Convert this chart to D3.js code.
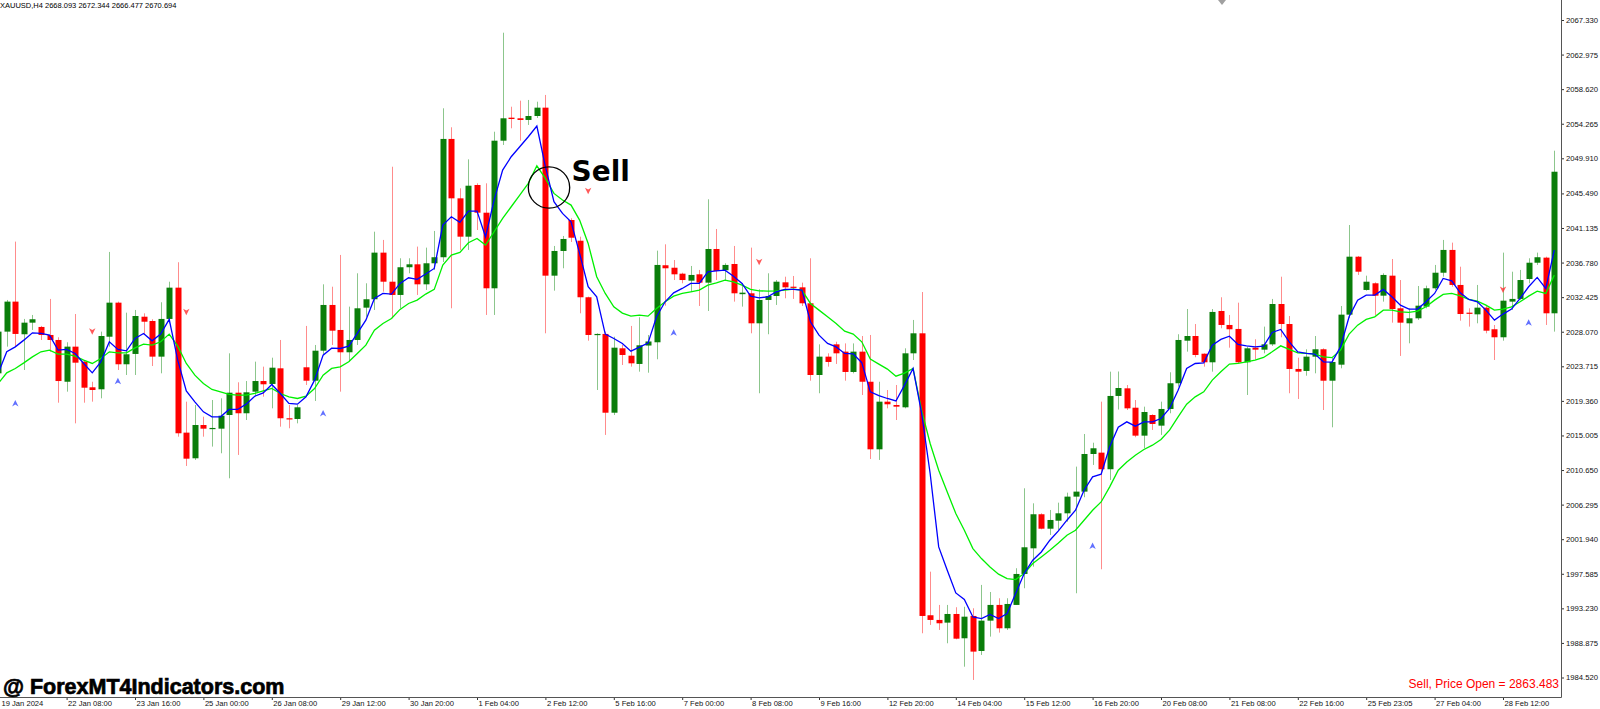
<!DOCTYPE html>
<html>
<head>
<meta charset="utf-8">
<script src="https://cdn.jsdelivr.net/npm/d3@7"></script>
<style>
  body { margin: 0; background: #ffffff; overflow: hidden; }
  text { font-family: 'Liberation Sans', Arial, sans-serif; }
</style>
</head>
<body>
<script>
// XAUUSD H4 candles (bar 0 = 19 Jan 2024)
const opens = [
  2022.83, 2028.08, 2031.86, 2027.75, 2029.21, 2028.67, 2027.66, 2027.03, 2021.77, 2026.19,
  2024.3, 2021.07, 2020.82, 2027.44, 2031.73, 2023.97, 2025.27, 2029.96, 2029.42, 2024.93,
  2029.68, 2033.62, 2015.36, 2012.13, 2016.32, 2015.86, 2015.86, 2017.58, 2020.39, 2017.8,
  2020.52, 2021.86, 2021.49, 2023.46, 2017.17, 2017.08, 2023.59, 2021.9, 2025.68, 2031.44,
  2028.29, 2025.48, 2027.03, 2031.1, 2032.16, 2038.03, 2034.37, 2032.7, 2036.19, 2036.56,
  2034.04, 2036.69, 2037.45, 2052.35, 2044.87, 2040.04, 2046.55, 2043.06, 2033.54, 2052.13,
  2055.03, 2054.95, 2054.74, 2055.24, 2056.29, 2035.13, 2038.24, 2042.14, 2039.53, 2032.41,
  2027.7, 2027.79, 2017.87, 2025.98, 2025.05, 2024.01, 2026.33, 2026.74, 2036.44, 2036.13,
  2035.38, 2034.5, 2035.3, 2034.25, 2038.49, 2035.81, 2036.6, 2032.8, 2032.91, 2029.13,
  2032.07, 2032.57, 2034.29, 2033.74, 2033.66, 2031.65, 2022.62, 2024.93, 2026.48, 2025.56,
  2023.0, 2025.56, 2021.77, 2013.26, 2019.26, 2018.84, 2018.55, 2025.35, 2027.87, 1992.36,
  1991.77, 1991.43, 1992.52, 1989.46, 1992.27, 1987.86, 1991.68, 1993.66, 1990.72, 1993.66,
  1997.56, 2000.79, 2005.08, 2003.26, 2004.27, 2005.2, 2007.3, 2007.93, 2012.67, 2012.84,
  2010.75, 2019.98, 2020.94, 2018.5, 2014.98, 2017.58, 2016.24, 2018.34, 2021.58, 2026.94,
  2027.53, 2025.3, 2024.22, 2030.68, 2028.92, 2028.42, 2024.22, 2026.06, 2025.81, 2026.48,
  2031.56, 2029.04, 2023.38, 2023.13, 2024.93, 2025.86, 2021.9, 2023.92, 2030.22, 2037.52,
  2033.33, 2034.17, 2032.61, 2035.13, 2031.02, 2029.13, 2029.76, 2031.23, 2033.54, 2035.5,
  2038.37, 2033.96, 2030.47, 2030.26, 2031.1, 2028.38, 2027.37, 2031.86, 2032.2, 2034.71,
  2036.76, 2037.4, 2030.39
];
const highs = [
  2028.29, 2032.07, 2039.42, 2029.68, 2030.18, 2028.8, 2032.2, 2027.37, 2026.74, 2030.3,
  2024.51, 2021.77, 2028.08, 2038.12, 2031.86, 2030.47, 2030.81, 2030.39, 2029.64, 2031.78,
  2034.37, 2036.82, 2019.26, 2018.84, 2017.37, 2019.47, 2019.68, 2025.35, 2021.7, 2021.86,
  2024.3, 2023.67, 2024.8, 2027.03, 2018.84, 2018.84, 2028.8, 2026.4, 2034.04, 2033.74,
  2037.74, 2031.23, 2035.43, 2034.17, 2040.67, 2039.63, 2048.85, 2037.32, 2037.32, 2038.79,
  2038.66, 2040.76, 2056.21, 2053.82, 2046.13, 2049.78, 2046.76, 2046.76, 2053.26, 2065.73,
  2056.41, 2057.17, 2057.26, 2057.04, 2057.89, 2038.87, 2040.13, 2042.36, 2040.04, 2032.49,
  2027.87, 2028.08, 2027.44, 2026.4, 2028.8, 2029.89, 2027.66, 2038.28, 2039.08, 2037.1,
  2035.5, 2036.35, 2035.85, 2044.75, 2041.01, 2036.69, 2038.87, 2034.17, 2038.66, 2033.42,
  2035.43, 2034.58, 2035.0, 2035.09, 2034.25, 2037.32, 2026.48, 2025.35, 2026.81, 2026.6,
  2026.6, 2027.53, 2027.66, 2021.77, 2020.73, 2021.36, 2025.98, 2029.55, 2033.07, 1997.85,
  1993.66, 1993.66, 1993.37, 1993.43, 1993.24, 1996.18, 1995.29, 1994.5, 1994.5, 1998.28,
  2008.35, 2006.46, 2005.2, 2005.62, 2006.54, 2007.8, 2011.08, 2015.19, 2014.09, 2019.26,
  2023.04, 2023.06, 2021.36, 2019.47, 2018.63, 2017.67, 2019.26, 2022.96, 2027.75, 2030.93,
  2029.04, 2025.35, 2030.93, 2032.41, 2030.18, 2031.73, 2026.19, 2027.12, 2028.71, 2032.2,
  2035.0, 2030.05, 2024.8, 2025.86, 2027.53, 2025.98, 2024.76, 2031.31, 2041.51, 2037.61,
  2035.13, 2034.29, 2035.43, 2037.23, 2034.58, 2031.02, 2033.83, 2033.87, 2036.48, 2039.63,
  2039.29, 2036.26, 2031.02, 2033.96, 2031.44, 2028.92, 2038.03, 2035.63, 2035.85, 2037.32,
  2038.03, 2037.52, 2050.87
];
const lows = [
  2022.48, 2026.19, 2026.27, 2023.25, 2028.29, 2027.03, 2025.56, 2019.13, 2020.52, 2016.53,
  2019.13, 2019.26, 2019.68, 2026.19, 2023.25, 2022.62, 2022.62, 2027.66, 2023.75, 2022.83,
  2029.13, 2014.85, 2011.16, 2011.92, 2014.85, 2013.6, 2012.76, 2009.61, 2012.55, 2016.95,
  2019.89, 2019.89, 2018.42, 2016.11, 2015.91, 2016.53, 2021.36, 2019.35, 2025.14, 2026.4,
  2020.52, 2024.3, 2026.4, 2029.96, 2030.81, 2033.11, 2029.76, 2031.02, 2035.43, 2032.7,
  2033.33, 2035.85, 2036.85, 2031.02, 2038.37, 2038.37, 2040.88, 2030.18, 2030.18, 2051.59,
  2053.69, 2052.13, 2054.11, 2054.99, 2027.87, 2033.24, 2036.06, 2039.37, 2030.39, 2026.94,
  2020.73, 2015.07, 2017.58, 2023.88, 2023.67, 2023.04, 2022.91, 2024.6, 2031.35, 2034.58,
  2034.17, 2033.07, 2031.31, 2030.68, 2034.58, 2034.58, 2031.86, 2031.23, 2027.87, 2020.32,
  2027.75, 2031.44, 2032.28, 2032.2, 2031.31, 2021.9, 2020.32, 2023.67, 2024.01, 2021.9,
  2022.83, 2020.1, 2012.04, 2011.92, 2018.42, 2016.95, 2018.42, 2024.51, 1990.09, 1991.14,
  1990.51, 1988.83, 1989.33, 1985.88, 1984.21, 1987.36, 1989.67, 1990.17, 1990.51, 1993.66,
  1995.76, 1998.48, 2003.18, 2002.47, 2003.1, 2004.14, 1995.13, 2007.22, 2011.29, 1998.15,
  2009.4, 2018.27, 2018.21, 2014.78, 2013.39, 2015.7, 2015.07, 2017.8, 2021.15, 2025.56,
  2024.85, 2023.67, 2023.04, 2028.5, 2026.06, 2024.09, 2020.1, 2024.6, 2025.35, 2026.27,
  2027.37, 2020.32, 2019.6, 2022.53, 2022.83, 2018.21, 2016.03, 2023.46, 2029.8, 2035.22,
  2033.24, 2030.18, 2031.86, 2029.21, 2025.02, 2026.61, 2029.55, 2031.02, 2033.33, 2035.0,
  2033.74, 2029.46, 2028.71, 2029.13, 2027.87, 2024.51, 2026.94, 2030.81, 2032.07, 2034.17,
  2036.48, 2028.92, 2028.08
];
const closes = [
  2028.08, 2031.86, 2027.79, 2029.21, 2029.64, 2027.66, 2027.03, 2021.86, 2026.19, 2024.17,
  2021.02, 2020.73, 2027.53, 2031.73, 2023.97, 2025.23, 2030.05, 2029.33, 2024.93, 2029.68,
  2033.62, 2015.28, 2012.08, 2016.32, 2015.86, 2015.95, 2017.49, 2020.39, 2017.8, 2020.44,
  2021.86, 2021.45, 2023.54, 2017.17, 2017.04, 2018.55, 2021.9, 2025.68, 2031.44, 2028.2,
  2025.48, 2027.03, 2031.02, 2032.16, 2038.03, 2034.37, 2032.7, 2036.19, 2036.56, 2034.04,
  2036.69, 2037.45, 2052.35, 2044.87, 2040.04, 2046.46, 2043.06, 2033.54, 2052.13, 2054.95,
  2054.86, 2054.74, 2055.24, 2056.29, 2035.13, 2038.24, 2039.75, 2039.91, 2032.41, 2027.66,
  2027.79, 2017.87, 2026.06, 2025.14, 2024.09, 2026.36, 2026.84, 2036.48, 2036.06, 2035.3,
  2034.58, 2035.22, 2034.25, 2038.49, 2035.72, 2036.48, 2032.91, 2032.99, 2029.13, 2032.07,
  2032.57, 2034.37, 2033.66, 2033.66, 2031.65, 2022.62, 2024.93, 2024.26, 2025.35, 2023.0,
  2025.56, 2021.77, 2013.26, 2019.26, 2018.93, 2018.63, 2025.35, 2027.87, 1992.27, 1991.77,
  1991.35, 1992.52, 1989.41, 1992.18, 1987.78, 1991.68, 1993.66, 1990.72, 1993.78, 1997.56,
  2000.92, 2005.08, 2003.26, 2004.36, 2005.2, 2007.3, 2007.93, 2012.67, 2013.39, 2010.75,
  2019.98, 2020.98, 2018.42, 2014.98, 2017.96, 2016.45, 2018.34, 2021.58, 2027.03, 2027.53,
  2025.14, 2024.22, 2030.56, 2028.92, 2028.38, 2024.22, 2025.98, 2025.81, 2026.48, 2031.56,
  2029.04, 2023.38, 2023.04, 2024.93, 2025.86, 2021.9, 2024.26, 2030.22, 2037.52, 2035.63,
  2034.37, 2032.61, 2035.22, 2030.93, 2029.21, 2029.76, 2031.35, 2033.54, 2035.5, 2038.37,
  2033.96, 2030.3, 2030.34, 2031.1, 2028.2, 2027.37, 2031.98, 2032.2, 2034.58, 2036.76,
  2037.45, 2030.39, 2048.22
];

// fast (blue) and slow (lime) moving average values per bar
const fastMa = [
  2022.82, 2025.54, 2026.16, 2027.01, 2027.93, 2027.85, 2027.64, 2025.75, 2025.84, 2025.33,
  2024.07, 2022.89, 2024.28, 2026.8, 2025.84, 2025.66, 2027.22, 2027.85, 2026.92, 2027.77,
  2029.62, 2024.49, 2020.62, 2019.24, 2017.98, 2017.35, 2017.35, 2018.28, 2018.28, 2018.95,
  2019.95, 2020.37, 2021.43, 2020.29, 2019.03, 2018.95, 2019.87, 2021.97, 2025.12, 2026.0,
  2025.96, 2026.25, 2027.85, 2029.53, 2032.26, 2032.89, 2032.81, 2034.15, 2034.86, 2034.66,
  2035.33, 2036.04, 2041.5, 2042.55, 2041.84, 2043.26, 2043.26, 2040.03, 2044.65, 2048.43,
  2050.11, 2051.37, 2052.63, 2053.97, 2048.85, 2044.44, 2042.97, 2041.92, 2037.93, 2033.73,
  2032.47, 2027.77, 2027.22, 2026.59, 2025.62, 2026.13, 2026.63, 2029.95, 2031.84, 2032.97,
  2033.52, 2034.15, 2034.15, 2035.62, 2035.74, 2035.83, 2035.07, 2034.15, 2032.55, 2032.34,
  2032.47, 2033.1, 2033.4, 2033.4, 2033.31, 2029.32, 2027.64, 2026.59, 2026.16, 2025.33,
  2025.28, 2024.17, 2020.5, 2020.02, 2019.66, 2019.35, 2021.34, 2023.44, 2017.81, 2010.21,
  2000.97, 1998.03, 1995.17, 1994.34, 1992.15, 1991.94, 1992.45, 1991.94, 1992.57, 1995.09,
  1997.61, 1999.29, 2000.33, 2001.81, 2002.98, 2004.33, 2005.59, 2008.11, 2009.79, 2010.13,
  2013.57, 2016.05, 2016.72, 2016.17, 2016.72, 2016.72, 2017.14, 2018.4, 2020.71, 2023.44,
  2024.07, 2024.15, 2026.38, 2027.1, 2027.51, 2026.47, 2026.29, 2026.16, 2026.25, 2027.98,
  2028.36, 2026.8, 2025.54, 2025.33, 2025.25, 2024.28, 2024.24, 2026.16, 2029.95, 2032.05,
  2032.68, 2032.68, 2033.4, 2032.47, 2031.42, 2030.92, 2030.92, 2031.84, 2032.89, 2034.78,
  2034.48, 2032.97, 2032.14, 2031.84, 2030.79, 2029.53, 2030.29, 2030.92, 2032.26, 2033.73,
  2034.91, 2033.52, 2038.35
];
const slowMa = [
  2021.56, 2022.89, 2023.44, 2024.15, 2024.9, 2025.54, 2025.75, 2025.25, 2025.25, 2024.99,
  2024.49, 2024.07, 2024.7, 2025.54, 2025.41, 2025.41, 2026.04, 2026.51, 2026.38, 2026.8,
  2027.77, 2026.25, 2024.07, 2022.6, 2021.56, 2020.8, 2020.5, 2020.17, 2020.08, 2020.08,
  2020.29, 2020.62, 2020.92, 2020.29, 2019.87, 2019.66, 2019.95, 2020.92, 2022.6, 2023.44,
  2023.64, 2024.28, 2025.33, 2026.38, 2028.27, 2029.11, 2029.74, 2030.88, 2031.63, 2032.05,
  2032.81, 2033.4, 2036.46, 2037.72, 2038.06, 2039.27, 2039.82, 2038.98, 2040.66, 2042.34,
  2043.81, 2045.28, 2046.75, 2048.97, 2047.38, 2045.49, 2044.65, 2044.02, 2042.13, 2039.19,
  2034.99, 2032.89, 2031.21, 2030.41, 2030.03, 2030.16, 2030.03, 2031.0, 2031.84, 2032.55,
  2032.89, 2033.1, 2033.31, 2033.94, 2034.23, 2034.57, 2034.36, 2033.94, 2033.4, 2033.22,
  2033.18, 2033.22, 2033.31, 2033.44, 2033.31, 2031.63, 2030.79, 2029.95, 2029.11, 2028.14,
  2027.77, 2026.8, 2024.64, 2023.99, 2023.36, 2022.47, 2022.85, 2023.44, 2018.19, 2013.99,
  2010.63, 2007.89, 2005.17, 2003.07, 2000.76, 1999.5, 1998.44, 1997.53, 1996.98, 1996.86,
  1997.61, 1998.87, 1999.71, 2000.55, 2001.47, 2002.44, 2003.07, 2004.33, 2005.59, 2006.63,
  2008.53, 2010.63, 2011.67, 2012.52, 2013.24, 2013.78, 2014.5, 2015.67, 2017.35, 2018.95,
  2019.87, 2020.5, 2021.97, 2023.02, 2023.99, 2024.07, 2024.28, 2024.49, 2024.83, 2025.54,
  2026.29, 2025.84, 2025.41, 2025.33, 2025.25, 2024.9, 2024.8, 2025.75, 2027.77, 2028.9,
  2029.62, 2029.95, 2030.79, 2030.79, 2030.58, 2030.5, 2030.66, 2031.21, 2032.05, 2032.77,
  2032.89, 2032.59, 2032.14, 2031.92, 2031.42, 2030.79, 2030.92, 2031.21, 2031.84, 2032.55,
  2033.18, 2032.89, 2035.2
];

// signal arrows: [bar, price]
const buySignals = [[2, 2019.04], [14, 2021.84], [38, 2017.78], [79, 2027.93], [128, 2001.09], [179, 2029.19]];
const sellSignals = [[11, 2028.14], [22, 2030.58], [69, 2045.82], [89, 2036.88], [176, 2033.4]];

const priceTicks = [
  2067.330, 2062.975, 2058.620, 2054.265, 2049.910, 2045.490, 2041.135, 2036.780, 2032.425, 2028.070,
  2023.715, 2019.360, 2015.005, 2010.650, 2006.295, 2001.940, 1997.585, 1993.230, 1988.875, 1984.520
];
const timeLabels = [
  '19 Jan 2024', '22 Jan 08:00', '23 Jan 16:00', '25 Jan 00:00', '26 Jan 08:00', '29 Jan 12:00',
  '30 Jan 20:00', '1 Feb 04:00', '2 Feb 12:00', '5 Feb 16:00', '7 Feb 00:00', '8 Feb 08:00',
  '9 Feb 16:00', '12 Feb 20:00', '14 Feb 04:00', '15 Feb 12:00', '16 Feb 20:00', '20 Feb 08:00',
  '21 Feb 08:00', '22 Feb 16:00', '25 Feb 23:05', '27 Feb 04:00', '28 Feb 12:00'
];
const labelEvery = 8; // bars between time labels

const headerText = 'XAUUSD,H4  2668.093 2672.344 2666.477 2670.694';

const width = 1600;
const height = 709;
const plotRight = 1561;
const plotBottom = 697;
const bodyWidth = 6;

const bars = opens.map((o, i) => ({i, o, h: highs[i], l: lows[i], c: closes[i]}));

const x = d3.scaleLinear().domain([0, bars.length - 1]).range([-1.8, -1.8 + (bars.length - 1) * 8.55]);
const y = d3.scaleLinear().domain([1984.52, 2067.33]).range([677.5, 20]);

const svg = d3.select('body').append('svg')
  .attr('width', width)
  .attr('height', height)
  .style('background-color', '#ffffff');

svg.append('clipPath').attr('id', 'plot')
  .append('rect').attr('x', 0).attr('y', 0).attr('width', plotRight).attr('height', plotBottom);

const plot = svg.append('g').attr('clip-path', 'url(#plot)');

const up = (d) => d.c >= d.o;

// wicks
plot.append('g').selectAll('line')
  .data(bars).join('line')
  .attr('x1', (d) => Math.round(x(d.i)) + 0.5)
  .attr('x2', (d) => Math.round(x(d.i)) + 0.5)
  .attr('y1', (d) => y(d.h))
  .attr('y2', (d) => y(d.l))
  .attr('stroke', (d) => up(d) ? '#008000' : '#ff0000')
  .attr('stroke-opacity', 0.45)
  .attr('stroke-width', 1);

// bodies
plot.append('g').selectAll('rect')
  .data(bars).join('rect')
  .attr('x', (d) => Math.round(x(d.i)) + 0.5 - bodyWidth / 2)
  .attr('y', (d) => y(Math.max(d.o, d.c)))
  .attr('width', bodyWidth)
  .attr('height', (d) => Math.max(1.2, Math.abs(y(d.o) - y(d.c))))
  .attr('fill', (d) => up(d) ? '#0a7d0a' : '#ff0000');

// moving averages
const maLine = (vals) => d3.line().x((d, i) => x(i)).y((d) => y(d))(vals);

plot.append('path')
  .attr('d', maLine(slowMa))
  .attr('fill', 'none')
  .attr('stroke', '#00f000')
  .attr('stroke-width', 1.3);

plot.append('path')
  .attr('d', maLine(fastMa))
  .attr('fill', 'none')
  .attr('stroke', '#0000ff')
  .attr('stroke-width', 1.3);

// signal arrows
plot.append('g').selectAll('path')
  .data(buySignals).join('path')
  .attr('transform', (d) => `translate(${x(d[0])},${y(d[1])})`)
  .attr('d', 'M0,-3.5 L3.2,3 L0,1.2 L-3.2,3 Z')
  .attr('fill', '#3a4cff')
  .attr('fill-opacity', 0.8);

plot.append('g').selectAll('path')
  .data(sellSignals).join('path')
  .attr('transform', (d) => `translate(${x(d[0])},${y(d[1])})`)
  .attr('d', 'M0,3.5 L3.2,-3 L0,-1.2 L-3.2,-3 Z')
  .attr('fill', '#ff3030')
  .attr('fill-opacity', 0.8);

// chart shift marker at the top
svg.append('path')
  .attr('d', 'M1218,0 L1226,0 L1222,5 Z')
  .attr('fill', '#a0a0a0');

// price axis
const yAxis = svg.append('g')
  .attr('transform', `translate(${plotRight},0)`)
  .call(d3.axisRight(y).tickValues(priceTicks).tickSize(3).tickPadding(2).tickFormat(d3.format('.3f')));
yAxis.select('.domain').remove();
yAxis.selectAll('line').attr('stroke', '#333');
yAxis.selectAll('text')
  .style('font-size', '7.7px')
  .style('font-family', "'Liberation Sans', Arial, sans-serif")
  .attr('fill', '#111');

// time axis
const timeTicks = timeLabels.map((t, k) => k * labelEvery);
const xAxis = svg.append('g')
  .attr('transform', `translate(0,${plotBottom})`)
  .call(d3.axisBottom(x).tickValues(timeTicks).tickSize(3).tickPadding(1)
    .tickFormat((d, k) => timeLabels[k]));
xAxis.select('.domain').remove();
xAxis.selectAll('line').attr('stroke', '#333');
xAxis.selectAll('text')
  .attr('text-anchor', 'start')
  .attr('dx', 1)
  .style('font-size', '7.6px')
  .style('font-family', "'Liberation Sans', Arial, sans-serif")
  .attr('fill', '#111');
xAxis.selectAll('.tick').filter((d) => x(d) < 0)
  .select('text').attr('x', -x(0));

// frame lines
svg.append('line')
  .attr('x1', 0).attr('x2', plotRight + 0.5)
  .attr('y1', plotBottom + 0.5).attr('y2', plotBottom + 0.5)
  .attr('stroke', '#555');
svg.append('line')
  .attr('x1', plotRight + 0.5).attr('x2', plotRight + 0.5)
  .attr('y1', 0).attr('y2', plotBottom + 0.5)
  .attr('stroke', '#555');

// header
svg.append('text')
  .attr('x', 0)
  .attr('y', 7.5)
  .style('font-size', '7.5px')
  .attr('fill', '#000')
  .text(headerText);

// sell annotation
svg.append('circle')
  .attr('cx', 549)
  .attr('cy', 187.5)
  .attr('r', 20.7)
  .attr('fill', 'none')
  .attr('stroke', '#000')
  .attr('stroke-width', 1.3);

svg.append('text')
  .attr('x', 571.5)
  .attr('y', 180.8)
  .style('font-family', "'DejaVu Sans', sans-serif")
  .style('font-size', '28px')
  .style('font-weight', 'bold')
  .attr('fill', '#000')
  .text('Sell');

// watermark and order text
svg.append('text')
  .attr('x', 3)
  .attr('y', 694)
  .style('font-size', '21.5px')
  .style('font-weight', 'bold')
  .attr('fill', '#000')
  .attr('stroke', '#000')
  .attr('stroke-width', 0.7)
  .text('@ ForexMT4Indicators.com');

svg.append('text')
  .attr('x', 1559)
  .attr('y', 688)
  .attr('text-anchor', 'end')
  .style('font-size', '12px')
  .attr('fill', '#ff0000')
  .text('Sell, Price Open = 2863.483');
</script>
</body>
</html>
